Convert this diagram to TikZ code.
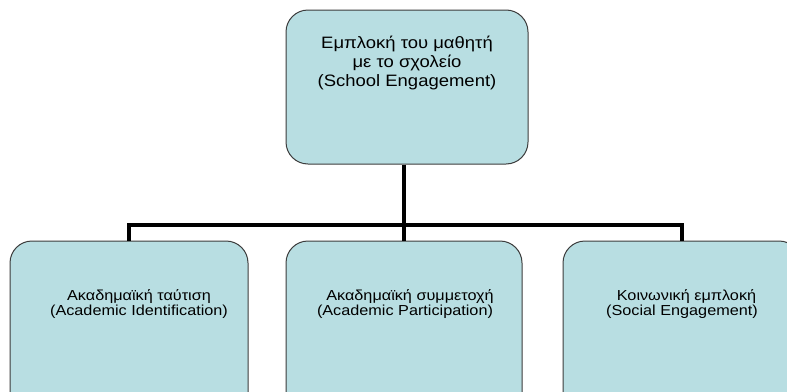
\documentclass[tikz,border=0pt]{standalone}
\usepackage{fontspec}
\setmainfont{Liberation Sans}[FakeStretch=1.12]
\definecolor{boxfill}{RGB}{184,222,226}
\definecolor{boxline}{RGB}{60,60,60}
\tikzset{
  card/.style={draw=boxline, line width=1pt, fill=boxfill, rounded corners=22pt, inner sep=0pt},
  toptext/.style={align=center, font=\fontsize{16.5}{19}\selectfont, inner sep=0pt},
  subtext/.style={align=center, font=\fontsize{14.5}{15.5}\selectfont, inner sep=0pt},
  conn/.style={line width=3.5pt, black}
}
\begin{document}
\begin{tikzpicture}[x=1pt,y=-1pt]
\useasboundingbox (0,0) rectangle (787,391);
\clip (0,0) rectangle (787,391);
\node[card, minimum width=242pt, minimum height=154pt] (top) at (407,87) {};
\node[card, minimum width=238pt, minimum height=190pt] (left) at (129,336) {};
\node[card, minimum width=236pt, minimum height=190pt] (mid) at (404,336) {};
\node[card, minimum width=238pt, minimum height=190pt] (right) at (682,336) {};
\coordinate (bus) at (404,225);
\draw[conn] (left.north) |- (bus) -| (right.north);
\draw[conn] (top.south -| mid.north) -- (mid.north);
\node[toptext] (toplabel) at (407,63) {Εμπλοκή του μαθητή\\με το σχολείο\\(School Engagement)};
\node[subtext] (leftlabel) at (139,304) {Ακαδημαϊκή ταύτιση\\(Academic Identification)};
\node[subtext] (midlabel) at (405,304) {\hspace*{10pt}Ακαδημαϊκή συμμετοχή\\(Academic Participation)};
\node[subtext] (rightlabel) at (682,304) {\hspace*{9pt}Κοινωνική εμπλοκή\\(Social Engagement)};
\end{tikzpicture}
\end{document}
